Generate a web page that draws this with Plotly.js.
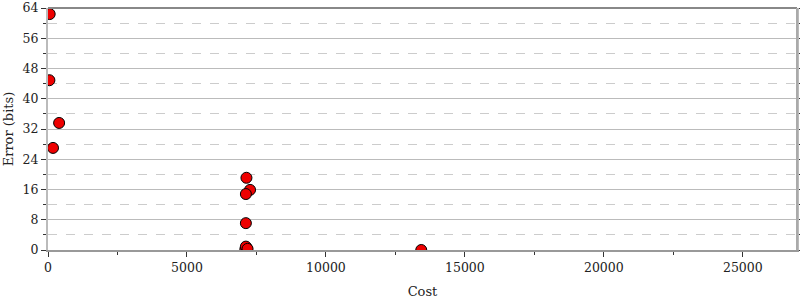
<!DOCTYPE html>
<html>
<head>
<meta charset="utf-8">
<script src="https://cdn.plot.ly/plotly-3.0.1.min.js"></script>
<style>html,body{margin:0;padding:0;background:#fff;}#chart{width:800px;height:300px;}</style>
</head>
<body>
<div id="chart"></div>
<script>
// Data
const costValues = [60, 50, 400, 180, 7140, 7270, 7120, 7120, 7100, 7150, 7120, 7180, 13430];
const errorValues = [62.4, 44.9, 33.6, 27.0, 19.1, 15.9, 14.8, 7.1, 0.2, 0.5, 0.9, 0.3, 0.0];
const yTickVals = [0, 8, 16, 24, 32, 40, 48, 56, 64];
const xTickVals = [0, 5000, 10000, 15000, 20000, 25000];
const xTickText = ['0', '5000', '10000', '15000', '20000', '25000'];

const serif = 'DejaVu Serif, serif';

const trace = {
  x: costValues,
  y: errorValues,
  type: 'scatter',
  mode: 'markers',
  marker: {color: '#ee0000', size: 11, line: {color: '#000', width: 1}},
  cliponaxis: true,
  hoverinfo: 'skip'
};

const layout = {
  width: 800, height: 300,
  margin: {l: 48, r: 3, t: 8, b: 50},
  paper_bgcolor: '#fff', plot_bgcolor: '#fff',
  showlegend: false,
  font: {family: serif, size: 13, color: '#222'},
  xaxis: {
    range: [0, 26950],
    tickvals: xTickVals,
    ticktext: xTickText,
    ticks: 'outside', ticklen: 5, tickcolor: '#333', tickwidth: 1,
    showgrid: false, zeroline: false,
    showline: true, linecolor: '#999', linewidth: 2,
    mirror: false,
    minor: {dtick: 2500, ticks: 'outside', ticklen: 3, tickcolor: '#333', showgrid: false},
    tickfont: {family: serif, size: 12.5, color: '#222'},
    title: {text: 'Cost', font: {family: serif, size: 13, color: '#222'}, standoff: 13}
  },
  yaxis: {
    range: [0, 64],
    tickvals: yTickVals,
    ticks: 'outside', ticklen: 5, tickcolor: '#333', tickwidth: 1,
    showgrid: true, gridcolor: '#bbbbbb', gridwidth: 1,
    zeroline: false,
    showline: true, linecolor: '#bbbbbb', linewidth: 2,
    mirror: 'ticks',
    minor: {dtick: 4, tick0: 4, ticks: 'outside', ticklen: 3, tickcolor: '#333', showgrid: true, gridcolor: '#cccccc', griddash: 'dash', gridwidth: 1},
    tickfont: {family: serif, size: 12.5, color: '#222'},
    title: {text: 'Error (bits)', font: {family: serif, size: 13, color: '#222'}, standoff: 6}
  },
  shapes: [
    {type: 'line', xref: 'paper', yref: 'paper', x0: 0, x1: 1, y0: 1, y1: 1, line: {color: '#888', width: 2}},
    {type: 'line', xref: 'paper', yref: 'paper', x0: 1, x1: 1, y0: 0, y1: 1, line: {color: '#aaa', width: 2}}
  ]
};

Plotly.newPlot('chart', [trace], layout, {displayModeBar: false, staticPlot: true});
</script>
</body>
</html>
